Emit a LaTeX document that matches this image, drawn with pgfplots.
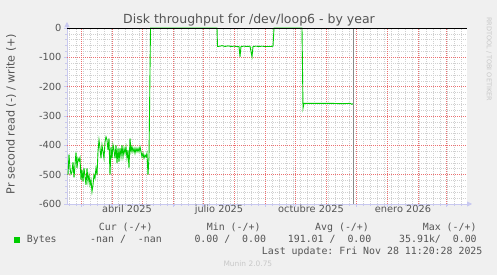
\documentclass[border=0pt]{standalone}
\usepackage{pgfplots}
\pgfplotsset{compat=1.18}
\usepackage{fontspec}
\setmainfont{DejaVu Sans}
\newfontfamily\monof{DejaVu Sans Mono}
\usetikzlibrary{arrows.meta}
\definecolor{bgc}{HTML}{F0F0F0}
\definecolor{txt}{HTML}{555555}
\definecolor{mgrid}{HTML}{EC7070}
\definecolor{mingrid}{HTML}{D0D0D0}
\definecolor{axc}{HTML}{C8C8F0}
\definecolor{grn}{HTML}{00CC00}
\definecolor{nowc}{HTML}{888888}
\definecolor{faint}{HTML}{C8C8C8}
\frenchspacing
\begin{document}
\begin{tikzpicture}[x=1pt,y=1pt]
\path[use as bounding box] (0,0) rectangle (497,275);
\fill[bgc] (0,0) rectangle (497,275);
\begin{axis}[
 at={(67pt,71pt)}, anchor=south west,
 scale only axis, width=400pt, height=176pt,
 xmin=45, xmax=445, ymin=-600, ymax=0,
 clip=false,
 axis background/.style={fill=white},
 axis x line=bottom, axis y line=left,
 axis line style={draw=axc, line width=0.8pt},
 x axis line style={-{Triangle[length=5pt,width=5pt]}, shorten >=-5pt},
 y axis line style={-{Triangle[length=5pt,width=5pt]}, shorten >=-6pt},
 xtick={59,90,120,151,181,212,243,273,304,334,365,396,424},
 xticklabels={},
 minor xtick={47,54,...,440},
 extra x ticks={105,197,289,381},
 extra x tick labels={abril 2025,julio 2025,octubre 2025,enero 2026},
 extra x tick style={major tick length=0pt},
 ytick={-600,-500,-400,-300,-200,-100,0},
 yticklabels={-600,-500,-400,-300,-200,-100,0},
 minor ytick={-580,-560,...,-20},
 grid=none,
 tick align=outside, major tick length=3pt, minor tick length=2pt,
 every tick/.style={draw=axc, line width=0.5pt},
 xticklabel style={font=\fontsize{9.8}{11}\selectfont, text=txt, anchor=base, inner sep=0pt, yshift=-9pt},
 yticklabel style={font=\fontsize{9.8}{11}\selectfont, text=txt, anchor=east, inner sep=0pt, xshift=-2.5pt},
]
\pgfplotsinvokeforeach{47,54,61,68,75,82,89,96,103,110,117,124,131,138,145,152,159,166,173,180,187,194,201,208,215,222,229,236,243,250,257,264,271,278,285,292,299,306,313,320,327,334,341,348,355,362,369,376,383,390,397,404,411,418,425,432,439}{
 \draw[mingrid, dash pattern=on 1pt off 1pt, line width=0.6pt] (axis cs:#1,-600) -- (axis cs:#1,0);
}
\pgfplotsinvokeforeach{-580,-560,-540,-520,-480,-460,-440,-420,-380,-360,-340,-320,-280,-260,-240,-220,-180,-160,-140,-120,-80,-60,-40,-20}{
 \draw[mingrid, dash pattern=on 1pt off 1pt, line width=0.6pt] (axis cs:45,#1) -- (axis cs:445,#1);
}
\pgfplotsinvokeforeach{59,90,120,151,181,212,243,273,304,334,365,396,424}{
 \draw[mgrid, dash pattern=on 1pt off 1pt, line width=0.8pt] (axis cs:#1,-600) -- (axis cs:#1,0);
}
\pgfplotsinvokeforeach{-500,-400,-300,-200,-100}{
 \draw[mgrid, dash pattern=on 1pt off 1pt, line width=0.8pt] (axis cs:45,#1) -- (axis cs:445,#1);
}
\addplot[grn, line width=0.9pt] coordinates {
(46,-501)(47,-431)(48,-477)(49,-498)(50,-490)(51,-457)(52,-510)(53,-467)(54,-424)(55,-478)
(56,-444)(57,-453)(58,-442)(59,-518)(60,-484)(61,-524)(62,-478)(63,-507)(64,-535)(65,-478)
(66,-524)(67,-501)(68,-535)(69,-518)(70,-558)(71,-535)(72,-501)(73,-512)(74,-478)(75,-501)
(76,-422)(77,-382)(78,-410)(79,-444)(80,-399)(81,-422)(82,-444)
(83,-388)(84,-371)(85,-382)(86,-416)(87,-376)(88,-501)(89,-405)(90,-444)(91,-399)(92,-416)
(93,-444)(94,-399)(95,-461)(96,-410)(97,-456)(98,-410)(99,-439)(100,-399)(101,-439)(102,-410)
(103,-427)(104,-405)(105,-444)(106,-416)(107,-478)(108,-376)(109,-422)(110,-405)(111,-422)(112,-410)
(113,-427)(114,-410)(115,-422)(116,-410)(117,-422)(118,-405)(119,-422)(120,-439)(121,-427)(122,-444)
(123,-433)(124,-439)(125,-427)(126,-501)(127,-440)(128.5,0)
(195,0)(195.5,-63)(198,-62)(200,-60)(203,-63)(206,-61)(209,-63)(212,-62)(215,-63)(217,-63)(218,-98)(219,-63)
(222,-62)(225,-63)(228,-62)(230,-98)(231,-63)(234,-62)(237,-63)(240,-62)(243,-63)(246,-63)(249,-63)(251,-62)(252,0)
(280,0)(281,-274)(282,-257)(290,-257)(300,-257)(310,-257)(320,-258)(328,-257)(330,-260)(331,-258)
};
\addplot[nowc, line width=0.8pt] coordinates {(331.5,-600)(331.5,0)};
\addplot[black, line width=0.9pt] coordinates {(45,0)(445,0)};
\end{axis}
\node[anchor=base, inner sep=0pt, font=\fontsize{12.5}{14}\selectfont, text=txt] at (249,251.7) {Disk throughput for /dev/loop6 - by year};
\node[rotate=90, inner sep=0pt, font=\fontsize{11.2}{13}\selectfont, text=txt] at (11,161) {Pr second read (-) / write (+)};
\node[rotate=-90, anchor=west, inner sep=0pt, font=\fontsize{6.5}{8}\selectfont, text=faint] at (489,258) {RRDTOOL / TOBI OETIKER};
\begin{scope}[every node/.style={anchor=base west, inner sep=0pt, font=\monof\fontsize{9.9}{11}\selectfont, text=txt}]
\node at (98.7,44) {Cur (-/+)};
\node at (206.7,44) {Min (-/+)};
\node at (315,44) {Avg (-/+)};
\node at (422.7,44) {Max (-/+)};
\node at (26.7,32) {Bytes};
\node at (90,32) {-nan\ /\ \ -nan};
\node at (194.3,32) {0.00\ /\ \ 0.00};
\node at (287.7,32) {191.01\ /\ \ 0.00};
\node at (399,32) {35.91k/\ \ 0.00};
\node at (261.7,20) {Last update: Fri Nov 28 11:20:28 2025};
\end{scope}
\fill[grn] (14,32.3) rectangle (20,37.7);
\node[anchor=base west, inner sep=0pt, font=\fontsize{7.45}{9}\selectfont, text=faint] at (223.3,8) {Munin 2.0.75};
\end{tikzpicture}
\end{document}
